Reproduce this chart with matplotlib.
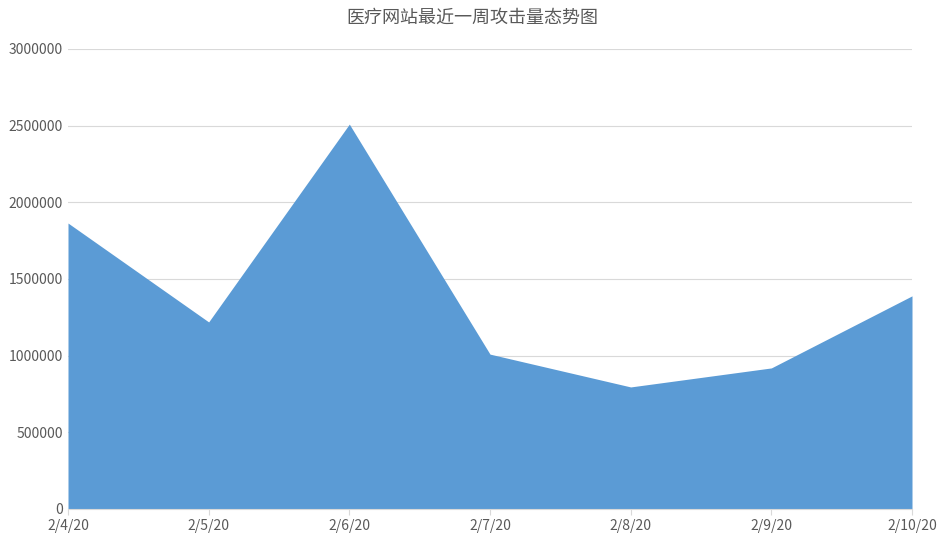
import matplotlib.pyplot as plt

plt.rcParams['font.family'] = ['Noto Sans CJK SC', 'DejaVu Sans']

dates = ["2/4/20", "2/5/20", "2/6/20", "2/7/20", "2/8/20", "2/9/20", "2/10/20"]
attacks = [1865000, 1220000, 2510000, 1010000, 796000, 920000, 1390000]

fig = plt.figure(figsize=(9.43, 5.33), dpi=100)
ax = fig.add_axes([68/943, 1-509/533, 844/943, 460/533])
x = list(range(len(dates)))
ax.fill_between(x, attacks, color='#5b9bd5', linewidth=0)
ax.set_xlim(0, len(dates) - 1)
ax.set_ylim(0, 3000000)
ax.set_yticks(range(0, 3000001, 500000))
ax.set_yticklabels([str(v) for v in range(0, 3000001, 500000)])
ax.set_xticks(x)
ax.set_xticklabels(dates)
ax.tick_params(colors='#595959', labelsize=10, length=0)
ax.tick_params(axis='x', length=4, color='#d9d9d9')
ax.grid(axis='y', color='#d9d9d9', linewidth=0.8)
ax.set_axisbelow(True)
for s in ['top', 'right', 'left']:
    ax.spines[s].set_visible(False)
ax.spines['bottom'].set_color('#d9d9d9')
fig.text(472/943, 1-18/533, "医疗网站最近一周攻击量态势图", ha='center', va='center',
         fontsize=13, color='#595959')
fig.savefig("out.png", dpi=100)
